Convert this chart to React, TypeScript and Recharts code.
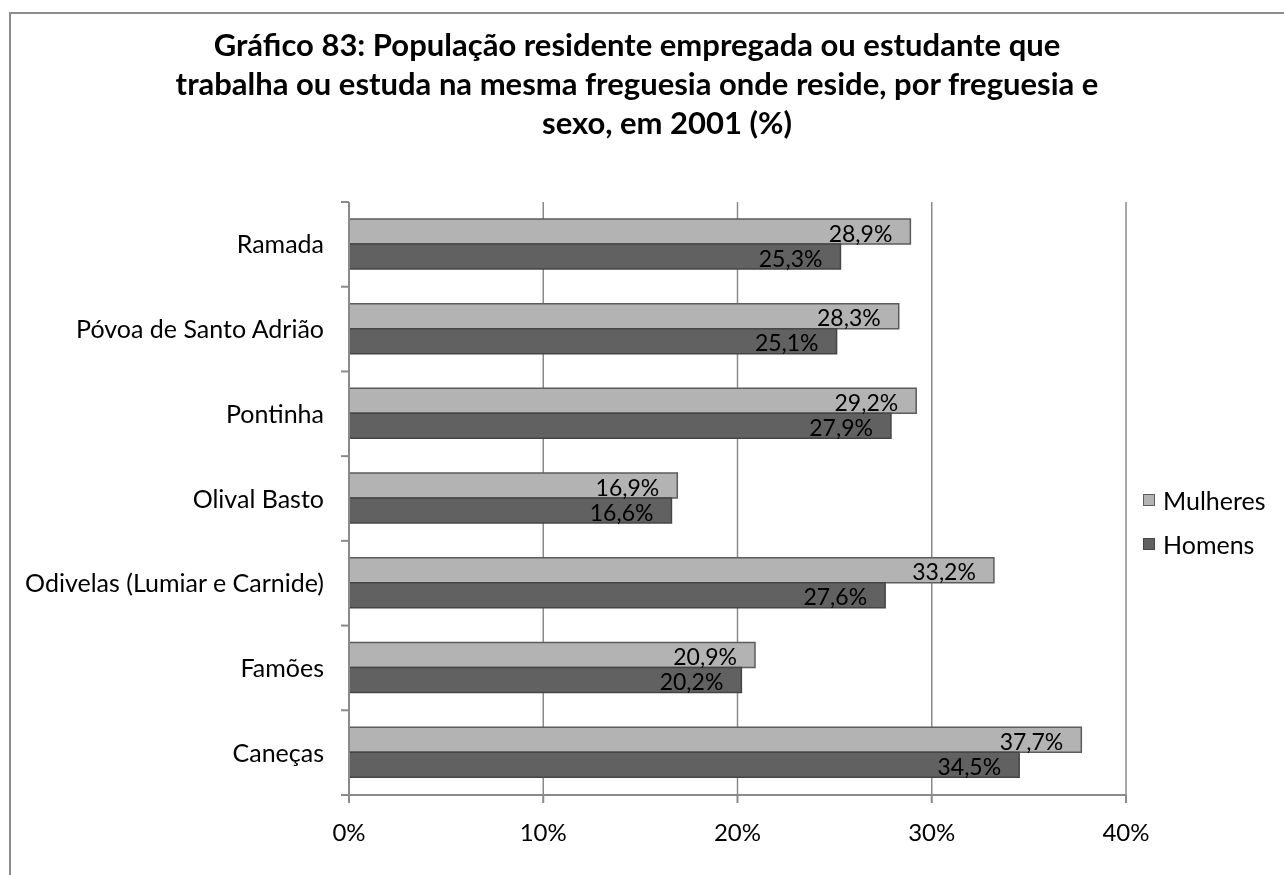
import { Bar, BarChart, CartesianGrid, LabelList, XAxis, YAxis } from "recharts";

const freguesias = [
  "Ramada",
  "Póvoa de Santo Adrião",
  "Pontinha",
  "Olival Basto",
  "Odivelas (Lumiar e Carnide)",
  "Famões",
  "Caneças"
];
const mulheres = [28.9, 28.3, 29.2, 16.9, 33.2, 20.9, 37.7];
const homens = [25.3, 25.1, 27.9, 16.6, 27.6, 20.2, 34.5];
const xTicks = [0, 10, 20, 30, 40];

const series = [
  { key: "mulheres", label: "Mulheres", fill: "#b3b3b3", stroke: "#5c5c5c" },
  { key: "homens", label: "Homens", fill: "#616161", stroke: "#454545" }
];

const data = freguesias.map((name, i) => ({ name, mulheres: mulheres[i], homens: homens[i] }));

const font = "Lato, 'Open Sans', sans-serif";
const axisColor = "#8a8a8a";
const plotTop = 194;
const plotBottom = 787;
const band = (plotBottom - plotTop) / freguesias.length;

const pct = (v: number) => `${v.toFixed(1).replace(".", ",")}%`;

function CategoryTick(props: any) {
  const { x, y, payload, index } = props;
  const axisX = x + 8;
  return (
    <g>
      <line x1={axisX - 8} x2={axisX} y1={y - band / 2} y2={y - band / 2} stroke={axisColor} strokeWidth={2} />
      {index === freguesias.length - 1 && (
        <line x1={axisX - 8} x2={axisX} y1={y + band / 2} y2={y + band / 2} stroke={axisColor} strokeWidth={2} />
      )}
      <text x={axisX - 25} y={y} dy="0.36em" textAnchor="end" fill="#000" fontSize={25} fontFamily={font}>
        {payload.value}
      </text>
    </g>
  );
}

export default function App() {
  return (
    <div style={{ position: "relative", width: 1268, height: 859, background: "#fff" }}>
      <div
        style={{
          position: "fixed",
          left: 9,
          top: 12,
          width: 1400,
          height: 1000,
          border: "2px solid #8c8c8c",
          pointerEvents: "none"
        }}
      />
      <div
        style={{
          position: "absolute",
          left: 0,
          top: 17,
          width: 1258,
          textAlign: "center",
          fontFamily: font,
          fontWeight: 700,
          fontSize: 31,
          lineHeight: "39px",
          color: "#000"
        }}
      >
        <div>Gráfico 83: População residente empregada ou estudante que</div>
        <div>trabalha ou estuda na mesma freguesia onde reside, por freguesia e</div>
        <div style={{ paddingLeft: 60 }}>sexo, em 2001 (%)</div>
      </div>
      <div style={{ position: "absolute", left: 0, top: 0 }}>
        <BarChart
          width={1268}
          height={859}
          data={data}
          layout="vertical"
          margin={{ top: plotTop, right: 150, left: 0, bottom: 32 }}
          barCategoryGap="20%"
          barGap={0}
        >
          <CartesianGrid horizontal={false} vertical stroke={axisColor} strokeWidth={1.5} />
          <XAxis
            type="number"
            domain={[0, 40]}
            ticks={xTicks}
            tickFormatter={(v) => `${v}%`}
            axisLine={{ stroke: axisColor, strokeWidth: 2 }}
            tickLine={{ stroke: axisColor, strokeWidth: 2 }}
            tickSize={8}
            tickMargin={21}
            height={40}
            tick={{ fill: "#000", fontSize: 24, fontFamily: font }}
          />
          <YAxis
            type="category"
            dataKey="name"
            width={341}
            axisLine={{ stroke: axisColor, strokeWidth: 2 }}
            tickLine={false}
            tickSize={0}
            tickMargin={8}
            tick={<CategoryTick />}
            interval={0}
          />
          {series.map((s) => (
            <Bar
              key={s.key}
              dataKey={s.key}
              name={s.label}
              fill={s.fill}
              stroke={s.stroke}
              strokeWidth={1.5}
              isAnimationActive={false}
            >
              <LabelList
                dataKey={s.key}
                position="insideRight"
                offset={18}
                formatter={(v: any) => pct(Number(v))}
                fill="#000"
                fontSize={23}
                fontFamily={font}
                dy={2}
              />
            </Bar>
          ))}
        </BarChart>
      </div>
      <div style={{ position: "absolute", left: 1135, top: 470, fontFamily: font, fontSize: 25, color: "#000" }}>
        {series.map((s) => (
          <div key={s.key} style={{ display: "flex", alignItems: "center", height: 44 }}>
            <span
              style={{
                display: "inline-block",
                width: 10,
                height: 10,
                background: s.fill,
                border: `1.5px solid ${s.stroke}`,
                marginRight: 8
              }}
            />
            {s.label}
          </div>
        ))}
      </div>
    </div>
  );
}
